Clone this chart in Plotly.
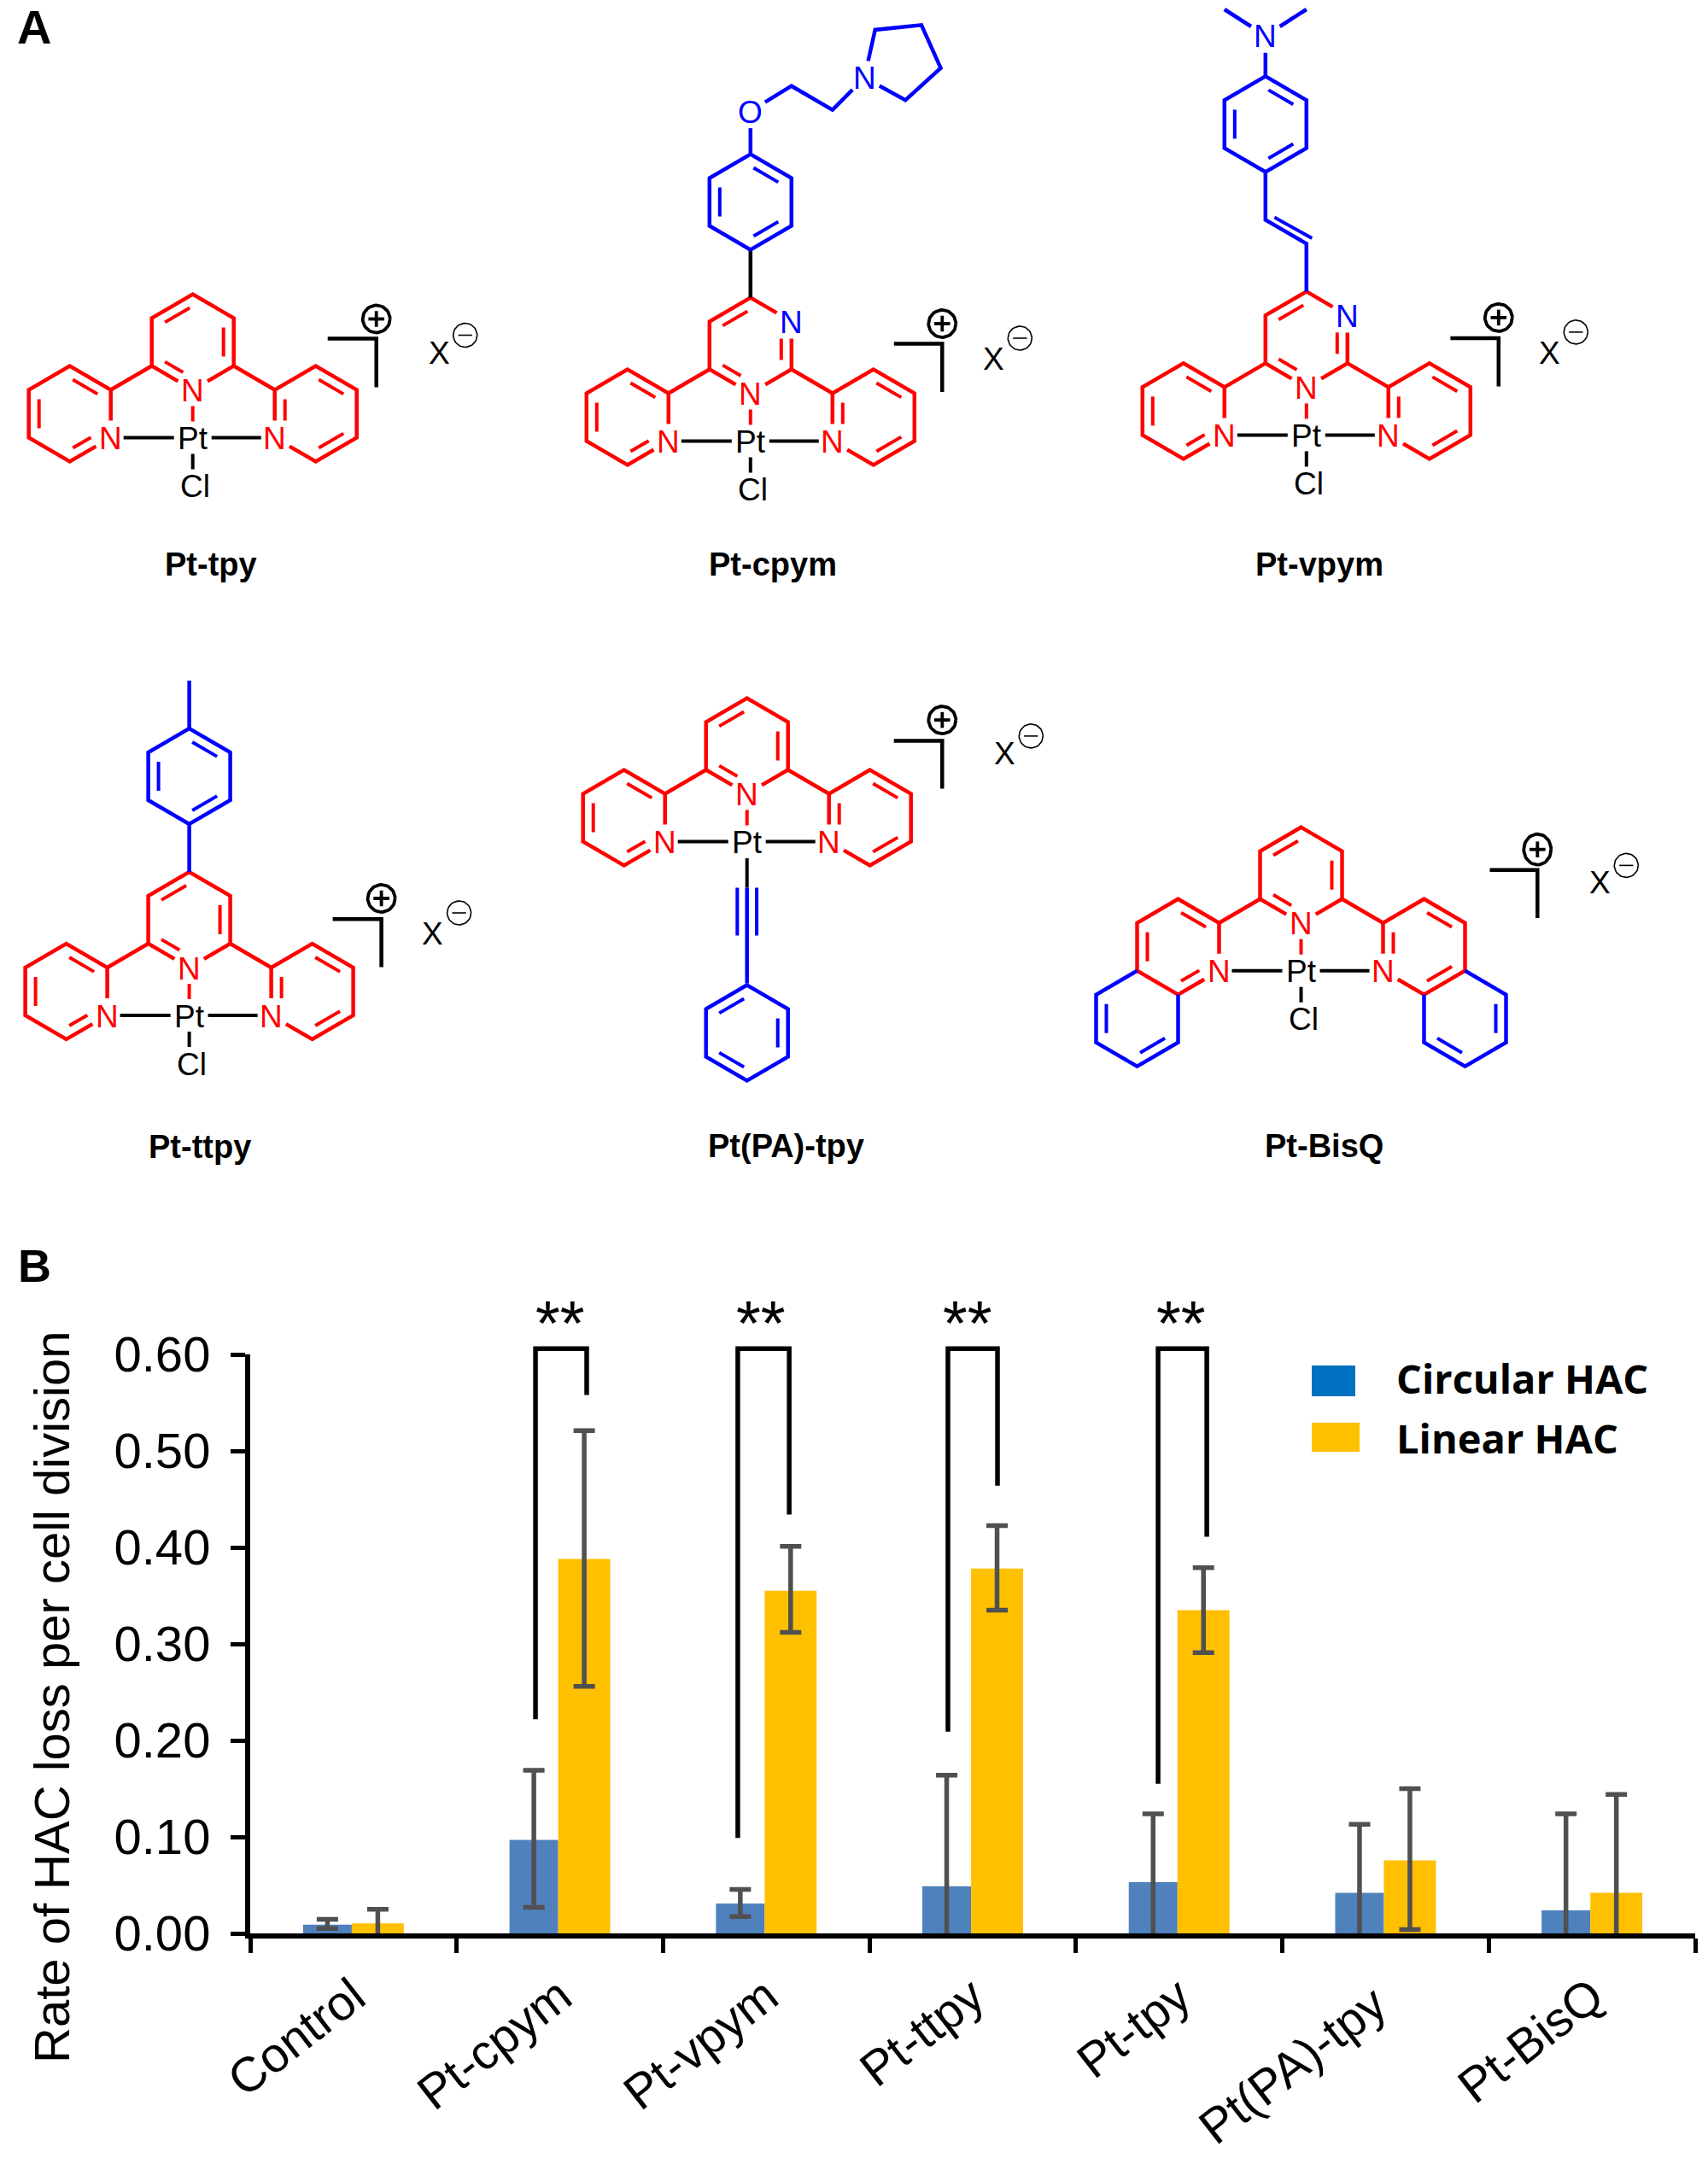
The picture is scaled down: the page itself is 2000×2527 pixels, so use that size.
import math
import plotly.graph_objects as go

# ---------- chart data ----------
categories = ["Control", "Pt-cpym", "Pt-vpym", "Pt-ttpy", "Pt-tpy", "Pt(PA)-tpy", "Pt-BisQ"]
tick_labels = ["Control", "Pt-cpym", "Pt-vpym", "Pt-ttpy", "Pt-tpy", "Pt(PA)-tpy\u00a0", "Pt-BisQ"]
circular = [0.009, 0.097, 0.031, 0.049, 0.053, 0.042, 0.024]
circular_hi = [0.0145, 0.169, 0.0456, 0.164, 0.124, 0.113, 0.124]
circular_lo = [0.005, 0.027, 0.0175, -0.066, -0.018, -0.029, -0.076]
linear = [0.0105, 0.388, 0.355, 0.378, 0.335, 0.0756, 0.042]
linear_hi = [0.025, 0.521, 0.401, 0.4225, 0.379, 0.15, 0.144]
linear_lo = [-0.004, 0.256, 0.312, 0.335, 0.291, 0.004, -0.06]
y_ticks = [0.0, 0.1, 0.2, 0.3, 0.4, 0.5, 0.6]
sig_left_x = [0.882, 1.862, 2.880, 3.898]
sig_right_x = [1.130, 2.111, 3.120, 4.134]
sig_left_y = [0.222, 0.099, 0.209, 0.155]
sig_right_y = [0.558, 0.434, 0.464, 0.411]
sig_top = 0.606
star_x = [1.0, 1.975, 2.975, 4.01]
star_y = 0.632

W, H = 2000, 2527
RED, BLUE, BLACK = "#FF0000", "#0000FF", "#000000"
U, V = 48.0, 28.0
FONT = "Liberation Sans"
LW, LW_IN = 4.5, 4.0

# ---------- helpers for the drawn chemical structures (illustration layer) ----------
paths = {}   # (color, width) -> (xs, ys)
labels = []


def add_seg(a, b, color, width=LW):
    xs, ys = paths.setdefault((color, width), ([], []))
    if xs and xs[-1] is not None and abs(xs[-1] - a[0]) < 0.01 and abs(ys[-1] - a[1]) < 0.01:
        xs.append(b[0]); ys.append(b[1])
    else:
        if xs:
            xs.append(None); ys.append(None)
        xs += [a[0], b[0]]; ys += [a[1], b[1]]


def shorten(a, b, ta=0.0, tb=0.0):
    d = math.hypot(b[0] - a[0], b[1] - a[1]) or 1.0
    ux, uy = (b[0] - a[0]) / d, (b[1] - a[1]) / d
    return (a[0] + ux * ta, a[1] + uy * ta), (b[0] - ux * tb, b[1] - uy * tb)


def text(x, y, s, color=BLACK, size=37, bold=False, family=FONT):
    labels.append(dict(x=x, y=y, text=f"<b>{s}</b>" if bold else s, showarrow=False,
                       xref="x2", yref="y2", xanchor="center", yanchor="middle",
                       font=dict(family=family, size=size, color=color)))


def circle(cx, cy, rx, ry, sign, width):
    n = 48
    xs, ys = paths.setdefault((BLACK, width), ([], []))
    if xs:
        xs.append(None); ys.append(None)
    for k in range(n + 1):
        t = 2 * math.pi * k / n
        xs.append(cx + rx * math.cos(t)); ys.append(cy + ry * math.sin(t))
    d = rx * 0.58
    add_seg((cx - d, cy), (cx + d, cy), BLACK, width)
    if sign > 0:
        add_seg((cx, cy - d), (cx, cy + d), BLACK, width)


class Mol:
    def __init__(self, x, y):
        self.x, self.y = x, y
        self.atoms = []

    def p(self, g):
        return (self.x + g[0] * U, self.y + g[1] * V)

    def atom(self, g, s, color):
        self.atoms.append(g)
        px, py = self.p(g)
        text(px, py + 1, s, color)

    def trim(self, g, t=20.0):
        return t if g in self.atoms else 0.0

    def bond(self, a, b, color, width=LW):
        pa, pb = shorten(self.p(a), self.p(b), self.trim(a), self.trim(b))
        add_seg(pa, pb, color, width)

    def chain(self, pts, color):
        for a, b in zip(pts[:-1], pts[1:]):
            self.bond(a, b, color)

    def ring(self, verts, doubles, color, skip=None):
        n = len(verts)
        cx = sum(self.p(v)[0] for v in verts) / n
        cy = sum(self.p(v)[1] for v in verts) / n
        labelled = [i for i, v in enumerate(verts) if v in self.atoms]
        start = labelled[0] if labelled else 0
        if skip is not None:
            start = (skip + 1) % n
        steps = n if (labelled or skip is not None) else n + 1
        for k in range(steps):
            i = (start + k) % n
            if i == skip:
                continue
            self.bond(verts[i], verts[(i + 1) % n], color)
        for i in doubles:
            a, b = verts[i], verts[(i + 1) % n]
            pa, pb = self.p(a), self.p(b)
            mx, my = (pa[0] + pb[0]) / 2, (pa[1] + pb[1]) / 2
            d = math.hypot(cx - mx, cy - my)
            ox, oy = (cx - mx) / d * 12, (cy - my) / d * 12
            ta = self.trim(a, 20.0) or 11.0
            tb = self.trim(b, 20.0) or 11.0
            qa, qb = shorten(pa, pb, ta, tb)
            add_seg((qa[0] + ox, qa[1] + oy), (qb[0] + ox, qb[1] + oy), color, LW_IN)

    def core(self, central_n2=False):
        self.atom((0, -2), "N", RED)
        self.atom((-2, 0), "N", RED)
        self.atom((2, 0), "N", RED)
        if central_n2:
            self.atom((1, -5), "N", BLUE)
        self.ring([(0, -2), (1, -3), (1, -5), (0, -6), (-1, -5), (-1, -3)], [1, 3, 5], RED)
        self.ring([(-2, 0), (-2, -2), (-3, -3), (-4, -2), (-4, 0), (-3, 1)], [1, 3, 5], RED)
        self.ring([(2, 0), (2, -2), (3, -3), (4, -2), (4, 0), (3, 1)], [0, 2, 4], RED)
        self.chain([(-1, -3), (-2, -2)], RED)
        self.chain([(1, -3), (2, -2)], RED)
        text(self.x, self.y + 1, "Pt", BLACK)
        add_seg((self.x - 81, self.y), (self.x - 22, self.y), BLACK, LW_IN)
        add_seg((self.x + 22, self.y), (self.x + 80, self.y), BLACK, LW_IN)
        add_seg((self.x, self.y - 37), (self.x, self.y - 19), RED, LW_IN)

    def chloride(self):
        add_seg((self.x, self.y + 19), (self.x, self.y + 37), BLACK, LW_IN)
        text(self.x + 3, self.y + 57, "Cl", BLACK)

    def charge(self, start, corner, top, end, plus, xp, minus, plus_r=(16, 16)):
        add_seg((self.x + start, self.y + top), (self.x + corner, self.y + top), BLACK, LW)
        add_seg((self.x + corner, self.y + top), (self.x + corner, self.y + end), BLACK, LW)
        circle(self.x + plus[0], self.y + plus[1], plus_r[0], plus_r[1], 1, 3.8)
        circle(self.x + minus[0], self.y + minus[1], 14, 14, -1, 1.6)
        text(self.x + xp[0], self.y + xp[1], "X", BLACK)


PHENYL = [(0, -8), (-1, -9), (-1, -11), (0, -12), (1, -11), (1, -9)]
NAME = dict(size=38, bold=True)

# Pt-tpy
m = Mol(225.7, 512.5)
m.core(); m.chloride()
m.charge(158, 215, -116, -59, (215, -139), (289, -99), (319, -120))
text(247, 661, "Pt-tpy", **NAME)

# Pt-cpym
m = Mol(878.8, 516.5)
m.core(central_n2=True); m.chloride()
m.charge(168, 224.5, -114, -57.6, (224.5, -137.5), (284.5, -96), (315.5, -120.5))
m.chain([(0, -6), (0, -8)], BLACK)
m.ring(PHENYL, [1, 3, 5], BLUE)
m.atom((0, -13.8), "O", BLUE)
m.atom((2.78, -15.2), "N", BLUE)
m.chain([(0, -12), (0, -13.8), (1, -14.85), (2, -13.85), (2.78, -15.2)], BLUE)
m.ring([(2.78, -15.2), (3.04, -17.2), (4.17, -17.4), (4.64, -15.6), (3.78, -14.26)], [], BLUE)
text(905, 661, "Pt-cpym", **NAME)

# Pt-vpym
m = Mol(1529.8, 509.4)
m.core(central_n2=True); m.chloride()
m.charge(168.6, 225, -113.4, -57, (225, -137.5), (285, -96.4), (315.5, -120.5))
m.chain([(0, -6), (0, -8), (-1, -9), (-1, -11)], BLUE)
add_seg(m.p((-0.78, -9.1)), m.p((0.136, -8.23)), BLUE, LW_IN)
m.ring([(-1, -11), (-2, -12), (-2, -14), (-1, -15), (0, -14), (0, -12)], [1, 3, 5], BLUE)
m.atom((-1, -16.7), "N", BLUE)
m.chain([(-1, -15), (-1, -16.7)], BLUE)
m.chain([(-2, -17.8), (-1, -16.7), (0, -17.8)], BLUE)
text(1545, 661, "Pt-vpym", **NAME)

# Pt-ttpy
m = Mol(221.6, 1189)
m.core(); m.chloride()
m.charge(168, 225, -112.7, -56.5, (225, -137), (285, -96), (316, -120))
m.chain([(0, -6), (0, -8)], BLUE)
m.ring(PHENYL, [1, 3, 5], BLUE)
m.chain([(0, -12), (0, -14)], BLUE)
text(234, 1343, "Pt-ttpy", **NAME)

# Pt(PA)-tpy
m = Mol(874.7, 985.5)
m.core()
m.charge(172, 228.6, -118, -62, (228.6, -142.4), (302, -103), (332.6, -123.6))
add_seg((m.x, m.y + 19.5), (m.x, m.y + 54), BLACK, LW_IN)
add_seg((m.x, m.y + 54), (m.x, m.y + 166), BLUE, LW)
add_seg((m.x - 11.4, m.y + 54), (m.x - 11.4, m.y + 110), BLUE, LW_IN)
add_seg((m.x + 11.4, m.y + 54), (m.x + 11.4, m.y + 110), BLUE, LW_IN)
m.ring([(0, 6), (-1, 7), (-1, 9), (0, 10), (1, 9), (1, 7)], [0, 2, 4], BLUE)
text(920, 1342, "Pt(PA)-tpy", **NAME)

# Pt-BisQ
m = Mol(1523.5, 1136.7)
m.core(); m.chloride()
m.charge(221, 276.8, -118, -61.7, (276.8, -142), (350.4, -103.3), (380.8, -123.3), plus_r=(16, 18))
m.ring([(-4, 0), (-5, 1), (-5, 3), (-4, 4), (-3, 3), (-3, 1)], [1, 3], BLUE, skip=5)
m.ring([(4, 0), (5, 1), (5, 3), (4, 4), (3, 3), (3, 1)], [1, 3], BLUE, skip=5)
text(1550, 1342, "Pt-BisQ", **NAME)

# Panel letters
text(40, 31, "A", size=56, bold=True)
text(40, 1482, "B", size=54, bold=True)

# Y-axis title and legend text / swatches
labels.append(dict(x=60, y=1988, text="Rate of HAC loss per cell division", textangle=-90, showarrow=False,
                   xref="x2", yref="y2", xanchor="center", yanchor="middle",
                   font=dict(family=FONT, size=58, color=BLACK)))
for ty, s in [(1614, "Circular HAC"), (1684, "Linear HAC")]:
    labels.append(dict(x=1633, y=ty, text=f"<b>{s}</b>", showarrow=False, xref="x2", yref="y2",
                       xanchor="left", yanchor="middle",
                       font=dict(family="Open Sans", size=47, color=BLACK)))
swatches = [dict(type="rect", xref="x2", yref="y2", x0=1536, x1=1587, y0=1599, y1=1635,
                 fillcolor="#0070C0", line=dict(width=0)),
            dict(type="rect", xref="x2", yref="y2", x0=1536, x1=1592, y0=1666, y1=1700,
                 fillcolor="#FFC000", line=dict(width=0))]

# ---------- figure ----------
fig = go.Figure()
err_style = dict(type="data", symmetric=False, color="#505050", thickness=5.5, width=12.5)
fig.add_trace(go.Bar(
    name="Circular HAC", x=categories, y=circular, offset=-0.244, width=0.236,
    marker=dict(color="#4F81BD", line=dict(width=0)),
    error_y=dict(array=[h - v for h, v in zip(circular_hi, circular)],
                 arrayminus=[v - l for v, l in zip(circular, circular_lo)], **err_style)))
fig.add_trace(go.Bar(
    name="Linear HAC", x=categories, y=linear, offset=-0.008, width=0.252,
    marker=dict(color="#FFC000", line=dict(width=0)),
    error_y=dict(array=[h - v for h, v in zip(linear_hi, linear)],
                 arrayminus=[v - l for v, l in zip(linear, linear_lo)], **err_style)))

# significance brackets on numeric twin axes that share the plot's value scale
for lx, rx, ly, ry in zip(sig_left_x, sig_right_x, sig_left_y, sig_right_y):
    fig.add_trace(go.Scatter(x=[lx, lx, rx, rx], y=[ly, sig_top, sig_top, ry], mode="lines",
                             xaxis="x3", yaxis="y3", cliponaxis=False,
                             line=dict(color=BLACK, width=5.5), hoverinfo="skip"))
stars = [dict(x=sx, y=star_y, text="**", showarrow=False, xref="x3", yref="y3",
              xanchor="center", yanchor="middle",
              font=dict(family=FONT, size=74, color=BLACK)) for sx in star_x]

# structure line work
for (color, width), (xs, ys) in paths.items():
    fig.add_trace(go.Scatter(x=xs, y=ys, mode="lines", xaxis="x2", yaxis="y2", cliponaxis=False,
                             line=dict(color=color, width=width), hoverinfo="skip"))

TOP3 = 0.7  # twin axis reaches above the 0.60 tick; same pixels per unit as the main y axis
fig.update_layout(
    width=W, height=H, autosize=False, margin=dict(l=0, r=0, t=0, b=0),
    paper_bgcolor="white", plot_bgcolor="rgba(0,0,0,0)", barmode="overlay", showlegend=False,
    hovermode=False, annotations=labels + stars, shapes=swatches,
    xaxis=dict(domain=[293 / W, 1985 / W], anchor="y", type="category", range=[-0.5, 6.5],
               tickmode="array", tickvals=categories, ticktext=tick_labels, tickson="boundaries",
               ticks="outside", ticklen=17, tickwidth=5, tickcolor=BLACK, tickangle=-38,
               ticklabelstandoff=12,
               showline=True, linecolor=BLACK, linewidth=6, showgrid=False, zeroline=False,
               tickfont=dict(family=FONT, size=57, color=BLACK), automargin=False),
    yaxis=dict(domain=[1 - 2264 / H, 1 - 1586 / H], anchor="x", range=[0, 0.6],
               tickmode="array", tickvals=y_ticks, ticktext=[f"{v:.2f}" for v in y_ticks],
               ticks="outside", ticklen=17, tickwidth=5, tickcolor=BLACK, ticklabelstandoff=12,
               showline=True, linecolor=BLACK, linewidth=6, showgrid=False, zeroline=False,
               tickfont=dict(family=FONT, size=58, color=BLACK), automargin=False),
    xaxis2=dict(domain=[0, 1], anchor="y2", range=[0, W], visible=False, fixedrange=True),
    yaxis2=dict(domain=[0, 1], anchor="x2", range=[H, 0], visible=False, fixedrange=True),
    xaxis3=dict(domain=[293 / W, 1985 / W], anchor="y3", range=[-0.5, 6.5], visible=False, fixedrange=True),
    yaxis3=dict(domain=[1 - 2264 / H, 1 - (2264 - TOP3 * 678 / 0.6) / H], anchor="x3", range=[0, TOP3],
                visible=False, fixedrange=True),
)
fig.write_html("out.html", config=dict(displayModeBar=False),
               post_script="document.body.style.margin='0';")
